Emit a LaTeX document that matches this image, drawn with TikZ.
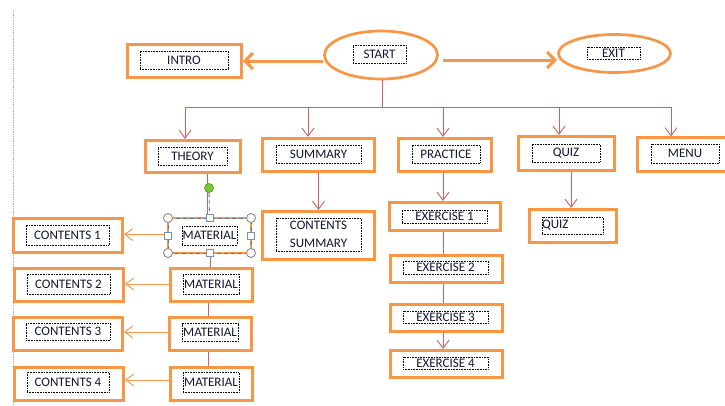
\documentclass[tikz,border=0pt]{standalone}
\usepackage{fontspec}
\setmainfont{Carlito}
\usetikzlibrary{arrows.meta,calc,shapes.geometric}
\definecolor{orng}{RGB}{247,150,70}
\definecolor{redl}{RGB}{200,100,100}
\definecolor{selb}{RGB}{80,120,170}
\definecolor{handleg}{RGB}{120,200,50}
\definecolor{txt}{RGB}{20,20,50}
\begin{document}
\begin{tikzpicture}[x=1pt,y=-1pt,
  obox/.style={draw=orng, line width=2.7pt, rectangle, inner sep=0pt, fill=white},
  oell/.style={draw=orng, line width=2.7pt, ellipse, inner sep=0pt, fill=white},
  tbox/.style={draw=black, densely dotted, line width=0.6pt, inner sep=0pt,
    font=\fontsize{13}{15}\selectfont, text=txt},
  redline/.style={draw=redl, line width=0.9pt},
  redarrow/.style={redline, -{Straight Barb[length=8pt,width=12pt]}},
  thinarrow/.style={draw=orng, line width=0.9pt, -{Straight Barb[length=8pt,width=12pt]}},
  bigarrow/.style={draw=orng, line width=3pt, -{Straight Barb[length=8pt,width=16pt]}},
  seldash/.style={draw=selb, line width=0.8pt, dash pattern=on 4pt off 3pt},
  hcirc/.style={circle, draw=gray, fill=white, line width=0.8pt, minimum size=9pt, inner sep=0pt},
  hsq/.style={rectangle, draw=selb!80, fill=white, line width=0.8pt, minimum size=7pt, inner sep=0pt},
  gcirc/.style={circle, draw=handleg!70!black, fill=handleg, line width=0.6pt, minimum size=9pt, inner sep=0pt}
]
\useasboundingbox (0,0) rectangle (725,405);
\fill[white] (0,0) rectangle (725,405);

% left dotted margin line
\coordinate (mtop) at (13,10);
\coordinate (mbot) at (13,405);
\draw[gray!70, densely dotted, line width=0.8pt] (mtop) -- (mbot);

% top level
\node[oell, minimum width=113pt, minimum height=48pt] (start) at (381,55) {};
\node[tbox, minimum width=53pt, minimum height=18pt] (start-t) at (379.5,54) {START};
\node[oell, minimum width=112pt, minimum height=38pt] (exit) at (614.5,53.5) {};
\node[tbox, minimum width=53pt, minimum height=12pt] (exit-t) at (613.5,53) {EXIT};
\node[obox, minimum width=114pt, minimum height=33.5pt] (intro) at (184.5,61) {};
\node[tbox, minimum width=88pt, minimum height=18pt] (intro-t) at (184,60) {INTRO};

% second level
\node[obox, minimum width=95.5pt, minimum height=32.5pt] (theory) at (193,156.5) {};
\node[tbox, minimum width=69pt, minimum height=18pt] (theory-t) at (192.5,156) {THEORY};
\node[obox, minimum width=112.5pt, minimum height=33.5pt] (summary) at (318.5,155) {};
\node[tbox, minimum width=85pt, minimum height=18pt] (summary-t) at (318.5,154) {SUMMARY};
\node[obox, minimum width=93.5pt, minimum height=33.5pt] (practice) at (445,155) {};
\node[tbox, minimum width=68pt, minimum height=18pt] (practice-t) at (446,154) {PRACTICE};
\node[obox, minimum width=96.5pt, minimum height=34.5pt] (quiz) at (566.5,153.5) {};
\node[tbox, minimum width=68pt, minimum height=18pt] (quiz-t) at (566,153) {QUIZ};
\node[obox, minimum width=95.5pt, minimum height=33.5pt] (menu) at (685,154.5) {};
\node[tbox, minimum width=68pt, minimum height=19pt] (menu-t) at (685,153.5) {MENU};

% summary branch
\node[obox, minimum width=112.5pt, minimum height=48.5pt] (csum) at (318.5,235.5) {};
\node[tbox, minimum width=85pt, minimum height=33pt, align=center,
  font=\fontsize{13}{17.5}\selectfont] (csum-t) at (318.5,234.5) {CONTENTS\\SUMMARY};

% practice branch
\node[obox, minimum width=111.5pt, minimum height=28.5pt] (ex1) at (445,216.5) {};
\node[tbox, minimum width=85pt, minimum height=13pt] (ex1-t) at (444.5,216.5) {EXERCISE 1};
\node[obox, minimum width=112.5pt, minimum height=27.5pt] (ex2) at (446.5,269) {};
\node[tbox, minimum width=85pt, minimum height=13pt] (ex2-t) at (445.5,267.5) {EXERCISE 2};
\node[obox, minimum width=112.5pt, minimum height=27.5pt] (ex3) at (446.5,318) {};
\node[tbox, minimum width=85pt, minimum height=12pt] (ex3-t) at (445.5,317) {EXERCISE 3};
\node[obox, minimum width=112.5pt, minimum height=27.5pt] (ex4) at (446.5,364) {};
\node[tbox, minimum width=85pt, minimum height=12pt] (ex4-t) at (445.5,363) {EXERCISE 4};

% quiz branch
\node[obox, minimum width=87.5pt, minimum height=33.5pt] (quiz2) at (573,226) {};
\node[tbox, text width=61pt, minimum height=17pt, align=left] (quiz2-t) at (572.5,225.5) {QUIZ};

% theory branch
\node[obox, minimum width=83pt, minimum height=35pt, outer sep=0pt] (mat1) at (209.5,235.5) {};
\node[tbox, minimum width=55pt, minimum height=19pt] (mat1-t) at (209.5,235.5) {MATERIAL};
\node[obox, minimum width=82.5pt, minimum height=33.5pt] (mat2) at (211.5,285) {};
\node[tbox, minimum width=56pt, minimum height=20pt] (mat2-t) at (211,284) {MATERIAL};
\node[obox, minimum width=82.5pt, minimum height=33.5pt] (mat3) at (210.5,334) {};
\node[tbox, minimum width=56pt, minimum height=18pt] (mat3-t) at (210,332.5) {MATERIAL};
\node[obox, minimum width=82.5pt, minimum height=33.5pt] (mat4) at (211.5,384) {};
\node[tbox, minimum width=56pt, minimum height=20pt] (mat4-t) at (211,382.5) {MATERIAL};

\node[obox, minimum width=109.5pt, minimum height=34.5pt] (c1) at (68,235.5) {};
\node[tbox, minimum width=83pt, minimum height=20pt] (c1-t) at (67.5,235) {CONTENTS 1};
\node[obox, minimum width=109.5pt, minimum height=33.5pt] (c2) at (69,285) {};
\node[tbox, minimum width=83pt, minimum height=20pt] (c2-t) at (68.5,284) {CONTENTS 2};
\node[obox, minimum width=109.5pt, minimum height=33.5pt] (c3) at (68,334) {};
\node[tbox, minimum width=84pt, minimum height=17pt] (c3-t) at (68,331.5) {CONTENTS 3};
\node[obox, minimum width=109.5pt, minimum height=33.5pt] (c4) at (69,384) {};
\node[tbox, minimum width=82pt, minimum height=20pt] (c4-t) at (68,382) {CONTENTS 4};

% big orange arrows
\draw[bigarrow] (start.west |- intro.east) -- (intro.east);
\draw[bigarrow] ($(start.east)+(4,5)$) -- ($(exit.west)+(0,6.5)$);

% red tree
\coordinate (bus) at (382,107);
\coordinate (b1) at (185,107);
\coordinate (b2) at (308,107);
\coordinate (b3) at (443,107);
\coordinate (b4) at (559,107);
\coordinate (b5) at (671,107);
\draw[redline] (start.south -| bus) -- (bus);
\draw[redline] (b1) -- (b5);
\draw[redarrow] (b1) -- (b1 |- theory.north);
\draw[redarrow] (b2) -- (b2 |- summary.north);
\draw[redarrow] (b3) -- (b3 |- practice.north);
\draw[redarrow] (b4) -- (b4 |- quiz.north);
\draw[redarrow] (b5) -- (b5 |- menu.north);

\draw[redarrow] (summary.south) -- (summary.south |- csum.north);
\coordinate (px) at (443,0);
\draw[redarrow] (practice.south -| px) -- (px |- ex1.north);
\draw[redline] (ex1.south -| px) -- (px |- ex2.north);
\draw[redline] (ex2.south -| px) -- (px |- ex3.north);
\draw[redarrow] (ex3.south -| px) -- (px |- ex4.north);
\coordinate (qx) at (571,0);
\draw[redarrow] (quiz.south -| qx) -- (qx |- quiz2.north);

\coordinate (tx) at (207,0);
\coordinate (mx) at (210,0);
\coordinate (mx2) at (208,0);
\draw[redline] (theory.south -| tx) -- (tx |- mat1.north);
\draw[redline] (mat1.south -| mx) -- (mx |- mat2.north);
\draw[redline] (mat2.south -| mx2) -- (mx2 |- mat3.north);
\draw[redline] (mat3.south -| mx2) -- (mx2 |- mat4.north);

% thin orange arrows
\draw[thinarrow] ($(mat1.west)+(-3,-1)$) -- ($(c1.east)+(0,-1)$);
\draw[thinarrow] ($(mat2.west)+(0,-1)$) -- ($(c2.east)+(0,-1)$);
\draw[thinarrow] ($(mat3.west)+(0,-2)$) -- ($(c3.east)+(0,-2)$);
\draw[thinarrow] ($(mat4.west)+(0,-4)$) -- ($(c4.east)+(0,-4)$);

% selection handles on first MATERIAL box
\draw[seldash] (mat1.north west) rectangle (mat1.south east);
\node[gcirc] (rot) at (209,188) {};
\draw[seldash] (rot) -- (mat1.north);
\node[hcirc] (h1) at (mat1.north west) {};
\node[hcirc] (h2) at (mat1.north east) {};
\node[hcirc] (h3) at (mat1.south west) {};
\node[hcirc] (h4) at (mat1.south east) {};
\node[hsq] (h5) at (mat1.north) {};
\node[hsq] (h6) at (mat1.south) {};
\node[hsq] (h7) at (mat1.west) {};
\node[hsq] (h8) at (mat1.east) {};
\end{tikzpicture}
\end{document}
